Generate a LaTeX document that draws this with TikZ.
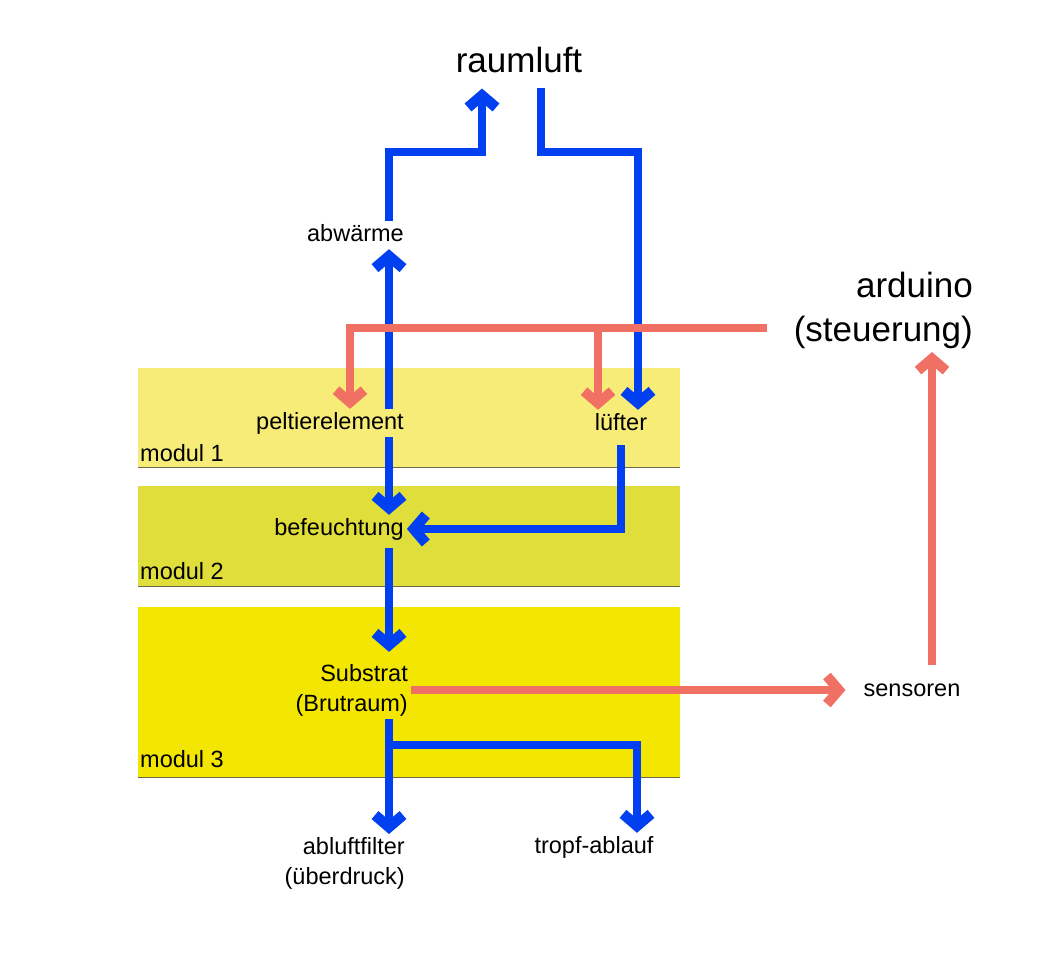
\documentclass[tikz,border=0pt]{standalone}
\usepackage{fontspec}
\setmainfont{Liberation Sans}
\usetikzlibrary{
arrows.meta,
positioning,
calc
}
\definecolor{FlowBlue}{HTML}{0040F0}
\definecolor{SignalRed}{HTML}{F07064}
\definecolor{ModOne}{HTML}{F8EC78}
\definecolor{ModTwo}{HTML}{E0DE3A}
\definecolor{ModThree}{HTML}{F3E600}
\definecolor{RuleGray}{HTML}{6E6A48}

\begin{document}
\begin{tikzpicture}[
    x=1pt,
    y=-1pt,
    lbl/.style={
        font=\fontsize{23.5}{30}\selectfont,
        inner sep=3pt
    },
    tag/.style={
        lbl,
        text height=17pt,
        text depth=5pt
    },
    big/.style={
        font=\fontsize{35}{44}\selectfont,
        inner sep=3pt
    },
    band/.style={
        inner sep=0pt,
        minimum width=542pt,
        anchor=north west
    },
    air/.style={
        draw=FlowBlue,
        line width=8.5pt,
        -{Straight Barb[sharp,length=12pt,width=28pt,line width=2pt 1]}
    },
    ctrl/.style={
        draw=SignalRed,
        line width=8pt,
        -{Straight Barb[sharp,length=12pt,width=28pt,line width=2pt 1]}
    }
]

\useasboundingbox (0,0) rectangle (1046,960);

% =====================================================
% MODULE BANDS
% =====================================================
\foreach \name/\top/\h/\col/\gap/\lab in {
mod1/368/99/ModOne/6/modul 1,
mod2/486/100/ModTwo/7/modul 2,
mod3/607/170/ModThree/10/modul 3
}{
    \node[
        band,
        fill=\col,
        minimum height=\h pt
    ]
    (\name)
    at (138,\top)
    {};

    \draw[
        RuleGray,
        line width=1.2pt
    ]
    (\name.south west) -- (\name.south east);

    \node[
        tag,
        anchor=base west
    ]
    (\name-lab)
    at ($(\name.south west)+(-1,-\gap)$)
    {\lab};
}

% =====================================================
% TEXT NODES
% =====================================================
\node[big, anchor=base] (raumluft) at (519,73) {raumluft};

\node[
    big,
    align=right,
    anchor=north east
]
(arduino)
at (976,269)
{arduino\\(steuerung)};

\node[tag, anchor=base] (abw) at (355.5,241) {abwärme};
\node[tag, anchor=base] (peltier) at (330,429) {peltierelement};
\node[tag, anchor=base] (luefter) at (621,430) {lüfter};
\node[tag, anchor=base] (befeucht) at (339,535) {befeuchtung};

\node[
    lbl,
    align=right,
    anchor=east
]
(substrat)
at (411,690)
{Substrat\\(Brutraum)};

\node[tag, anchor=base] (sensoren) at (912,696) {sensoren};

\node[
    lbl,
    align=right,
    anchor=north east
]
(abluft)
at (408,834)
{abluftfilter\\(überdruck)};

\node[tag, anchor=base] (tropf) at (594,853) {tropf-ablauf};

% helper coordinates
\coordinate (spine) at (389,0);
\coordinate (top-l) at (389,152);
\coordinate (top-r) at (638,152);
\coordinate (rl-in) at ($(raumluft.south)+(-37,12)$);
\coordinate (rl-out) at ($(raumluft.south)+(22,11)$);
\coordinate (branch) at ($(substrat.south -| spine)+(0,26)$);
\coordinate (bus) at ($(arduino.west)+(-24,17)$);
\coordinate (sens-up) at ([xshift=20pt]sensoren.north);

% =====================================================
% AIR FLOW (blue)
% =====================================================
\draw[air] (abw.north -| top-l) -- (top-l) -| (rl-in);
\draw[air] (rl-out) |- (top-r) -- (luefter.north -| top-r);

\draw[air] (peltier.north -| spine) -- (abw.south -| spine);
\draw[air] (peltier.south -| spine) -- (befeucht.north -| spine);

\draw[air, shorten <=7pt] (luefter.south) |- (befeucht.east);

\draw[air, shorten <=5pt, shorten >=9pt]
(befeucht.south -| spine) -- (substrat.north -| spine);

\draw[air] (substrat.south -| spine) -- (abluft.north -| spine);
\draw[air] (branch) -| ([xshift=43pt]tropf.north);

% =====================================================
% CONTROL (red)
% =====================================================
\draw[ctrl] (bus) -| ([xshift=20pt]peltier.north);
\draw[ctrl] (bus) -| ([xshift=-23pt]luefter.north);

\draw[ctrl, shorten >=15pt] (substrat.east) -- (sensoren.west);
\draw[ctrl, shorten <=11pt] (sens-up) -- (sens-up |- arduino.south);

\end{tikzpicture}
\end{document}
